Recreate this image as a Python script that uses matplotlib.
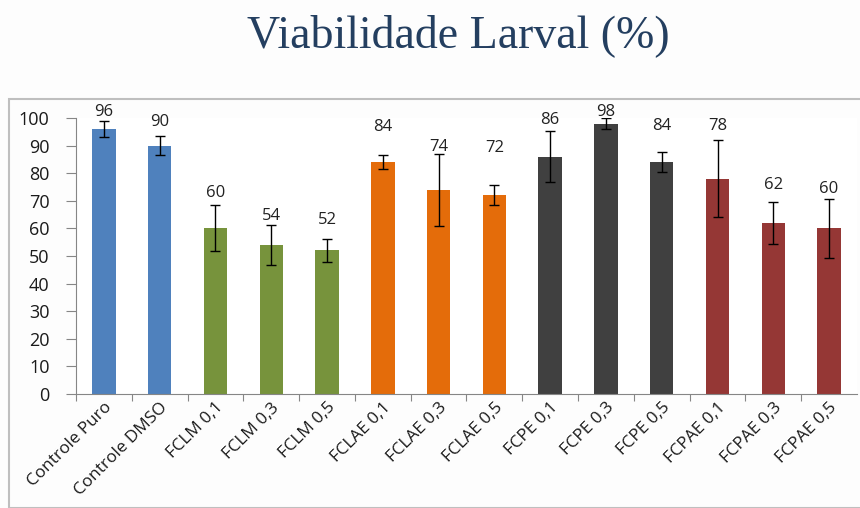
import numpy as np
import matplotlib.pyplot as plt
from matplotlib.patches import Rectangle

# tratamentos e viabilidade larval (%)
tratamentos = ['Controle Puro', 'Controle DMSO', 'FCLM 0,1', 'FCLM 0,3', 'FCLM 0,5',
               'FCLAE 0,1', 'FCLAE 0,3', 'FCLAE 0,5', 'FCPE 0,1', 'FCPE 0,3',
               'FCPE 0,5', 'FCPAE 0,1', 'FCPAE 0,3', 'FCPAE 0,5']
viabilidade = [96, 90, 60, 54, 52, 84, 74, 72, 86, 98, 84, 78, 62, 60]
erro = [3, 3.5, 8.3, 7.3, 4.2, 2.5, 13, 3.6, 9.2, 2.1, 3.5, 14, 7.7, 10.7]
grupo = [0, 0, 1, 1, 1, 2, 2, 2, 3, 3, 3, 4, 4, 4]

cores = ['#4F81BD', '#77933C', '#E46C0A', '#404040', '#953735']
# altura dos rotulos acima da barra
desloc = [6.3, 8.7, 13, 10.6, 11.2, 12.7, 15.4, 17.1, 13.4, 4, 13, 19, 13.8, 14.4]

plt.rcParams['font.family'] = ['Open Sans', 'DejaVu Sans']

fig = plt.figure(figsize=(8.6, 5.08), dpi=100)
fig.patch.set_facecolor('#FDFDFD')

# moldura do grafico
fig.patches.append(Rectangle((9/860, 0), 1, 1 - 99/508, transform=fig.transFigure,
                             fill=False, edgecolor='#BFBFBF', linewidth=1.5))

fig.text(458/860, 1 - 36/508, 'Viabilidade Larval (%)', ha='center', va='center',
         fontsize=33, color='#243F60', family='Liberation Serif')

ax = fig.add_axes([76/860, 1 - 394/508, 781/860, 276/508])
ax.set_facecolor('white')

x = np.arange(len(tratamentos))
ax.bar(x, viabilidade, width=0.42, color=[cores[g] for g in grupo], zorder=2)
ax.errorbar(x, viabilidade, yerr=erro, fmt='none', ecolor='black', elinewidth=1,
            capsize=3.5, capthick=1, zorder=3)

for xi, v, d in zip(x, viabilidade, desloc):
    ax.text(xi, v + d, str(v), ha='center', va='center', fontsize=12,
            color='#222222', clip_on=False)

ax.set_xlim(-0.5, len(tratamentos) - 0.5)
ax.set_ylim(0, 100)
ax.set_yticks(range(0, 101, 10))
ax.tick_params(axis='y', labelsize=13, length=7, color='#868686', pad=12,
               labelcolor='#1a1a1a')

ax.set_xticks(x - 0.5, minor=False)
ax.set_xticks(x, minor=True)
ax.tick_params(axis='x', which='major', length=5, color='#868686', labelbottom=False)
ax.tick_params(axis='x', which='minor', length=0, pad=4)
ax.set_xticklabels(tratamentos, minor=True, rotation=45, ha='right',
                   rotation_mode='anchor', fontsize=12.3, color='#1a1a1a')

for s in ['top', 'right']:
    ax.spines[s].set_visible(False)
for s in ['left', 'bottom']:
    ax.spines[s].set_color('#868686')

plt.savefig('out.png', dpi=100, facecolor=fig.get_facecolor())
